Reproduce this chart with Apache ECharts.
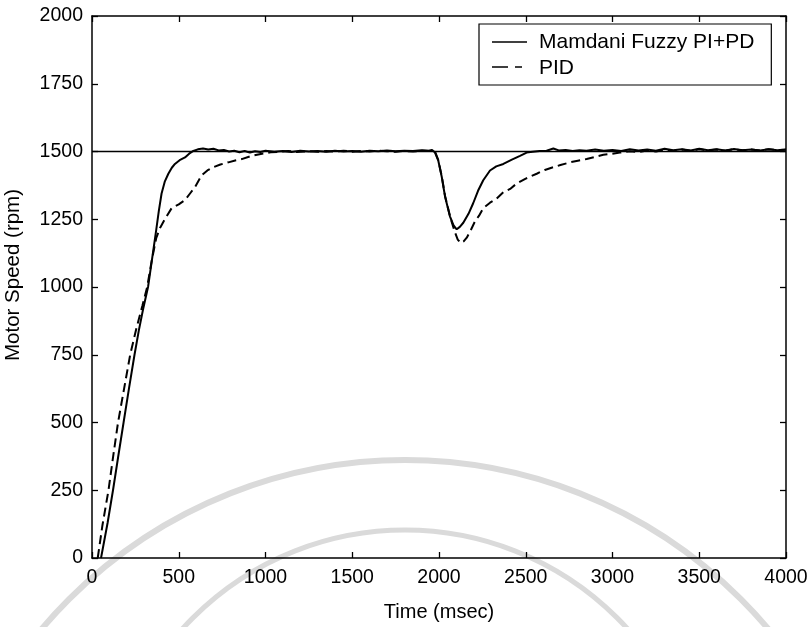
<!DOCTYPE html>
<html>
<head>
<meta charset="utf-8">
<script src="https://cdn.jsdelivr.net/npm/echarts@6/dist/echarts.min.js"></script>
<style>
  html, body { margin: 0; padding: 0; background: #fff; }
  #chart { width: 811px; height: 627px; }
</style>
</head>
<body>
<div id="chart"></div>
<script>
// Step response of the motor speed: Mamdani fuzzy PI+PD controller vs. PID,
// with a load disturbance applied at about 2000 ms.
const xTicks = [0, 500, 1000, 1500, 2000, 2500, 3000, 3500, 4000];
const yTicks = [0, 250, 500, 750, 1000, 1250, 1500, 1750, 2000];

const setpointTime = [0, 4000];
const setpointSpeed = [1500, 1500];

const fuzzyTime = [
  52, 90, 121, 150, 182, 213, 245, 270, 295, 323, 350, 370, 385, 401, 420, 440, 460, 478, 505, 536,
  560, 584, 610, 640, 670, 700, 730, 760, 790, 820, 850, 880, 910, 940, 970, 1000, 1050, 1100, 1150, 1200,
  1250, 1300, 1350, 1400, 1450, 1500, 1550, 1600, 1650, 1700, 1750, 1800, 1850, 1900, 1940, 1960, 1977, 1996, 2016, 2035,
  2063, 2085, 2102, 2120, 2140, 2170, 2197, 2225, 2255, 2294, 2330, 2371, 2420, 2467, 2505, 2540, 2580, 2620, 2659, 2690,
  2730, 2770, 2810, 2850, 2900, 2950, 3000, 3050, 3100, 3150, 3200, 3250, 3300, 3350, 3400, 3450, 3500, 3550, 3600, 3650,
  3700, 3750, 3800, 3850, 3900, 3950, 4000
];
const fuzzySpeed = [
  0, 130, 250, 370, 500, 625, 750, 840, 920, 1000, 1120, 1210, 1280, 1345, 1390, 1418, 1440, 1454, 1468, 1478,
  1492, 1502, 1508, 1511, 1507, 1510, 1504, 1506, 1500, 1503, 1497, 1502, 1496, 1501, 1498, 1503, 1499, 1502, 1498, 1503,
  1500, 1502, 1499, 1503, 1500, 1502, 1499, 1503, 1501, 1504, 1501, 1503, 1502, 1505, 1503, 1506, 1496, 1466, 1406, 1333,
  1261, 1226, 1213, 1222, 1237, 1270, 1309, 1355, 1394, 1430, 1445, 1454, 1470, 1484, 1496, 1499, 1502, 1503, 1511, 1504,
  1506, 1502, 1505, 1503, 1507, 1503, 1506, 1502, 1508, 1504, 1507, 1503, 1510, 1505, 1508, 1504, 1510, 1505, 1508, 1504,
  1509, 1505, 1507, 1504, 1508, 1505, 1507
];

const pidTime = [
  33, 60, 95, 122, 150, 185, 220, 255, 290, 318, 345, 370, 392, 420, 459, 500, 536, 565, 594, 632,
  665, 699, 740, 786, 825, 863, 920, 980, 1030, 1080, 1130, 1180, 1250, 1300, 1350, 1400, 1450, 1500, 1550, 1600,
  1650, 1700, 1750, 1800, 1850, 1900, 1950, 1977, 1996, 2016, 2035, 2063, 2090, 2108, 2125, 2142, 2160, 2185, 2210, 2230,
  2255, 2294, 2330, 2371, 2410, 2448, 2500, 2563, 2610, 2659, 2700, 2755, 2800, 2851, 2900, 2947, 3000, 3043, 3100, 3150,
  3200, 3250, 3300, 3350, 3400, 3450, 3500, 3550, 3600, 3650, 3700, 3750, 3800, 3850, 3900, 3950, 4000
];
const pidSpeed = [
  0, 120, 250, 375, 500, 625, 750, 845, 930, 1000, 1100, 1180, 1218, 1250, 1291, 1305, 1321, 1345, 1369, 1412,
  1430, 1442, 1452, 1460, 1467, 1472, 1484, 1492, 1497, 1499, 1502, 1498, 1501, 1499, 1502, 1500, 1503, 1499, 1502, 1500,
  1503, 1501, 1499, 1502, 1500, 1503, 1502, 1500, 1468, 1408, 1336, 1262, 1205, 1175, 1162, 1168, 1182, 1212, 1246, 1262,
  1291, 1311, 1325, 1350, 1362, 1382, 1400, 1418, 1432, 1442, 1450, 1460, 1466, 1472, 1480, 1488, 1492, 1496, 1501, 1498,
  1504, 1500, 1506, 1502, 1507, 1503, 1508, 1504, 1507, 1503, 1508, 1505, 1507, 1504, 1508, 1505, 1506
];

const zip = (xs, ys) => xs.map((x, i) => [x, ys[i]]);

const FONT = '"Liberation Sans", Arial, Helvetica, sans-serif';
const INK = '#000';

const tickStyle = { show: true, inside: true, length: 6, lineStyle: { color: INK, width: 1.3 } };
const lineStyleAxis = { show: true, onZero: false, lineStyle: { color: INK, width: 1.5 } };

const chart = echarts.init(document.getElementById('chart'), null, { renderer: 'canvas' });

// legend key samples, drawn next to the legend entries
const LEGEND_LEFT = 479;
const LEGEND_TOP = 24;
const keyX0 = LEGEND_LEFT + 13;
const keyX1 = keyX0 + 35;

chart.setOption({
  animation: false,
  backgroundColor: '#fff',
  grid: { left: 92, right: 25, top: 16, bottom: 59, containLabel: false },
  legend: {
    left: LEGEND_LEFT,
    top: LEGEND_TOP,
    orient: 'vertical',
    backgroundColor: '#fff',
    borderColor: INK,
    borderWidth: 1.2,
    borderRadius: 0,
    padding: [8, 17, 6, 13],
    itemWidth: 42,
    itemHeight: 10,
    itemGap: 5,
    textStyle: { fontFamily: FONT, fontSize: 21, color: INK },
    data: [
      { name: 'Mamdani Fuzzy PI+PD', icon: 'none' },
      { name: 'PID', icon: 'none' }
    ]
  },
  xAxis: [
    {
      type: 'value', position: 'bottom', min: 0, max: 4000, interval: 500,
      axisLine: lineStyleAxis, axisTick: tickStyle, splitLine: { show: false },
      axisLabel: {
        margin: 10, fontFamily: FONT, fontSize: 19.5, color: INK,
        formatter: v => (xTicks.includes(v) ? String(v) : '')
      },
      name: 'Time (msec)', nameLocation: 'middle', nameGap: 44,
      nameTextStyle: { fontFamily: FONT, fontSize: 20, color: INK }
    },
    {
      type: 'value', position: 'top', min: 0, max: 4000, interval: 500,
      axisLine: lineStyleAxis, axisTick: tickStyle, splitLine: { show: false },
      axisLabel: { show: false }
    }
  ],
  yAxis: [
    {
      type: 'value', position: 'left', min: 0, max: 2000, interval: 250,
      axisLine: lineStyleAxis, axisTick: tickStyle, splitLine: { show: false },
      axisLabel: {
        margin: 9, fontFamily: FONT, fontSize: 19.5, color: INK,
        formatter: v => (yTicks.includes(v) ? String(v) : '')
      }
    },
    {
      type: 'value', position: 'right', min: 0, max: 2000, interval: 250,
      axisLine: lineStyleAxis, axisTick: tickStyle, splitLine: { show: false },
      axisLabel: { show: false }
    }
  ],
  graphic: [
    // faint circular emblem printed behind the plot
    {
      type: 'arc', z: -10, silent: true,
      shape: { cx: 405, cy: 935, r: 475, startAngle: Math.PI, endAngle: 2 * Math.PI },
      style: { stroke: '#dadada', lineWidth: 6, fill: null }
    },
    {
      type: 'arc', z: -10, silent: true,
      shape: { cx: 405, cy: 830, r: 300, startAngle: Math.PI, endAngle: 2 * Math.PI },
      style: { stroke: '#dadada', lineWidth: 5, fill: null }
    },
    {
      type: 'text', silent: true,
      x: 13, y: 275, rotation: Math.PI / 2,
      style: {
        text: 'Motor Speed (rpm)', fontFamily: FONT, fontSize: 20.5, fill: INK,
        textAlign: 'center', textVerticalAlign: 'middle'
      }
    },
    {
      type: 'line', silent: true, z: 200,
      shape: { x1: keyX0, y1: LEGEND_TOP + 18, x2: keyX1, y2: LEGEND_TOP + 18 },
      style: { stroke: INK, lineWidth: 1.6 }
    },
    {
      type: 'line', silent: true, z: 200,
      shape: { x1: keyX0, y1: LEGEND_TOP + 43, x2: keyX1, y2: LEGEND_TOP + 43 },
      style: { stroke: INK, lineWidth: 1.6, lineDash: [16, 7, 7, 20] }
    }
  ],
  series: [
    {
      name: 'setpoint', type: 'line', showSymbol: false, symbol: 'none', silent: true,
      data: zip(setpointTime, setpointSpeed),
      lineStyle: { color: INK, width: 1.3 }, z: 2
    },
    {
      name: 'Mamdani Fuzzy PI+PD', type: 'line', showSymbol: false, symbol: 'none',
      data: zip(fuzzyTime, fuzzySpeed),
      lineStyle: { color: INK, width: 2, type: 'solid' },
      itemStyle: { color: INK }, z: 3
    },
    {
      name: 'PID', type: 'line', showSymbol: false, symbol: 'none',
      data: zip(pidTime, pidSpeed),
      lineStyle: { color: INK, width: 2, type: [9, 5] },
      itemStyle: { color: INK }, z: 3
    }
  ]
});
</script>
</body>
</html>
